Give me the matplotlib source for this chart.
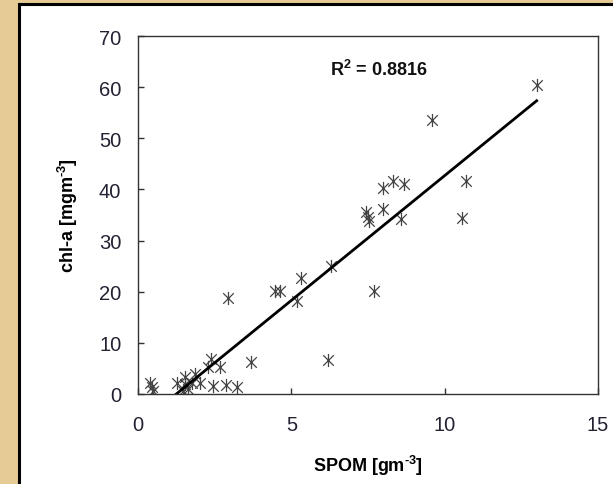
import matplotlib
matplotlib.use("Agg")
import matplotlib.pyplot as plt
import numpy as np
from matplotlib.path import Path
from matplotlib.patches import Rectangle

# Daten
spom = [13.0, 9.59, 10.70, 10.57, 8.30, 8.68, 8.00, 8.00, 8.57,
        7.45, 7.50, 7.52, 7.70, 6.28, 5.30, 5.19, 4.48, 4.64, 2.95,
        6.19, 3.68, 2.38, 2.67, 2.29, 1.86, 2.02, 2.46, 2.87, 3.24,
        1.26, 1.53, 1.53, 1.64, 1.75, 1.47, 0.38, 0.46, 0.50]
chla = [60.4, 53.5, 41.7, 34.5, 41.7, 41.0, 40.2, 36.2, 34.2,
        35.5, 34.6, 33.8, 20.1, 25.0, 22.7, 18.1, 20.1, 20.1, 18.8,
        6.7, 6.2, 6.8, 5.2, 5.2, 3.9, 2.2, 1.6, 1.8, 1.4,
        2.2, 3.3, 2.0, 1.0, 2.2, 0.6, 2.2, 1.3, 0.5]
trend_slope = 4.88
trend_intercept = -6.1
r2_text = "0.8816"

plt.rcParams["font.family"] = ["Liberation Sans", "DejaVu Sans"]
plt.rcParams["mathtext.fontset"] = "custom"
plt.rcParams["mathtext.rm"] = "Liberation Sans:bold"
plt.rcParams["mathtext.bf"] = "Liberation Sans:bold"
plt.rcParams["mathtext.default"] = "bf"

fig = plt.figure(figsize=(6.13, 4.85), dpi=100, facecolor="#e6cc94")

# weisses Feld mit schwarzem Rand
panel = Rectangle((19 / 613, -0.05), 1.1, (485 - 5) / 485 + 0.05,
                  transform=fig.transFigure, facecolor="white",
                  edgecolor="black", linewidth=2.2, zorder=-5)
fig.patches.append(panel)

ax = fig.add_axes([138 / 613, 90 / 485, 460 / 613, 358 / 485])
ax.set_facecolor("white")

# Sternmarker (Excel-Stil)
star = Path([(0, -1), (0, 1), (-0.8, -0.8), (0.8, 0.8), (-0.8, 0.8), (0.8, -0.8)],
            [Path.MOVETO, Path.LINETO, Path.MOVETO, Path.LINETO, Path.MOVETO, Path.LINETO])
ax.plot(spom, chla, linestyle="none", marker=star, markersize=9.5,
        markerfacecolor="none", markeredgecolor="#444444", markeredgewidth=0.9)

# Trendlinie
x0 = -trend_intercept / trend_slope
xs = np.array([x0, max(spom)])
ax.plot(xs, trend_slope * xs + trend_intercept, color="black", linewidth=2)

ax.text(7.85, 63.5, "R$^2$ = " + r2_text, ha="center", va="center",
        fontsize=13, fontweight="bold", color="#111111")

ax.set_xlim(0, 15)
ax.set_ylim(0, 70)
ax.set_xticks([0, 5, 10, 15])
ax.set_yticks(range(0, 71, 10))
ax.tick_params(direction="in", length=4.5, width=1, colors="#333333",
               labelcolor="#222233", labelsize=14.5)
ax.tick_params(axis="x", pad=15)
ax.tick_params(axis="y", pad=12)
for s in ax.spines.values():
    s.set_color("#333333")
    s.set_linewidth(1)

ax.set_xlabel(r"SPOM [gm$^{\text{-3}}$]", fontsize=13, fontweight="bold", labelpad=14)
ax.set_ylabel(r"chl-a [mgm$^{\text{-3}}$]", fontsize=13, fontweight="bold", labelpad=14)

fig.savefig("out.png", dpi=100, facecolor=fig.get_facecolor())
